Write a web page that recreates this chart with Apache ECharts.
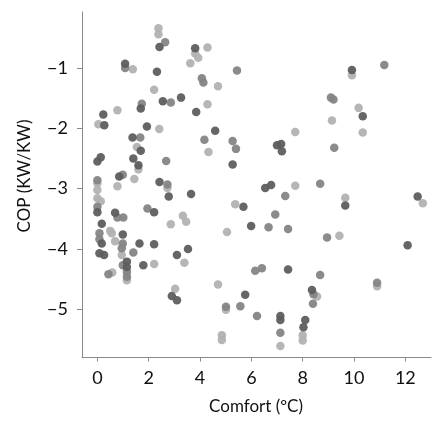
<!DOCTYPE html>
<html>
<head>
<meta charset="utf-8">
<script src="https://cdn.jsdelivr.net/npm/echarts@6/dist/echarts.min.js"></script>
<style>html,body{margin:0;padding:0;background:#fff}#c{width:432px;height:421px}</style>
</head>
<body>
<div id="c"></div>
<script>
var xTicks = [0, 2, 4, 6, 8, 10, 12];
var yTicks = [-1, -2, -3, -4, -5];
var xTitle = 'Comfort (ºC)';
var yTitle = 'COP (KW/KW)';

var darkPts = [[2.42,-0.65],[3.81,-0.67],[1.08,-0.93],[2.32,-1.06],[2.55,-1.55],[3.26,-1.49],[1.69,-1.67],[0.23,-1.77],[0.27,-1.95],[1.93,-1.97],[3.85,-1.73],[9.92,-1.03],[10.34,-1.80],[1.37,-2.15],[1.69,-2.37],[0.13,-2.48],[0.0,-2.55],[1.40,-2.50],[1.60,-2.61],[0.85,-2.80],[2.42,-2.89],[2.78,-3.13],[3.65,-3.09],[0.0,-3.39],[2.21,-3.39],[0.69,-3.40],[0.17,-3.58],[0.99,-3.76],[0.17,-3.91],[1.64,-3.91],[2.21,-3.92],[0.08,-4.07],[0.26,-4.10],[1.15,-4.21],[1.15,-4.30],[1.79,-4.27],[3.10,-4.10],[3.53,-4.00],[2.90,-4.78],[3.10,-4.85],[4.59,-2.04],[5.27,-2.60],[7.00,-2.28],[7.16,-2.26],[7.19,-2.38],[6.54,-2.99],[6.77,-2.94],[5.69,-3.30],[5.99,-3.62],[9.66,-3.28],[12.48,-3.13],[12.09,-3.94],[8.36,-4.68],[7.43,-4.34],[5.76,-4.76],[7.13,-5.11],[7.13,-5.18],[8.10,-5.18],[8.03,-5.30]];

var midPts = [[2.64,-0.57],[1.08,-1.00],[2.86,-1.57],[1.73,-1.59],[5.44,-1.04],[4.07,-1.17],[4.13,-1.24],[11.18,-0.95],[9.10,-1.49],[9.20,-1.52],[2.68,-2.54],[0.99,-2.77],[0,-2.86],[2.73,-2.93],[0,-3.30],[0.78,-3.48],[1.01,-3.48],[0.08,-3.74],[0.08,-3.84],[0.99,-3.91],[1.40,-4.06],[1.15,-4.38],[1.15,-4.46],[0.99,-4.27],[0.43,-4.42],[4.17,-2.19],[5.27,-2.21],[5.40,-2.34],[7.32,-3.12],[6.93,-3.43],[6.67,-3.64],[7.43,-3.67],[9.23,-2.32],[8.68,-2.92],[8.95,-3.81],[8.68,-4.43],[8.40,-4.91],[10.90,-4.56],[8.42,-4.75],[6.15,-4.36],[6.41,-4.32],[5.01,-4.96],[5.57,-4.95],[6.22,-5.11],[7.13,-5.39],[1.67,-2.15],[1.95,-3.33],[0.95,-3.99]];

var lightPts = [[2.38,-0.34],[2.38,-0.44],[3.81,-0.76],[3.93,-0.83],[1.38,-1.02],[3.62,-0.92],[2.21,-1.36],[0.78,-1.70],[0.04,-1.93],[2.41,-2.01],[4.29,-0.66],[4.70,-1.30],[4.29,-1.60],[7.71,-2.06],[9.92,-1.12],[10.18,-1.66],[9.14,-1.87],[10.34,-2.07],[1.54,-2.31],[1.60,-2.68],[1.44,-2.84],[0,-2.91],[0.78,-2.96],[2.73,-2.99],[0,-3.02],[0,-3.16],[0.13,-3.21],[3.33,-3.45],[3.46,-3.55],[2.86,-3.59],[0.50,-3.70],[0.56,-3.74],[0.69,-3.87],[0.95,-4.10],[1.15,-4.52],[2.21,-4.25],[0.58,-4.39],[3.39,-4.23],[3.03,-4.66],[4.33,-2.39],[7.71,-2.95],[5.37,-3.26],[5.05,-3.72],[9.66,-3.15],[12.68,-3.24],[9.43,-3.78],[8.56,-4.79],[10.90,-4.62],[4.70,-4.59],[5.01,-5.01],[7.13,-5.61],[8.00,-5.43],[8.00,-5.52],[4.85,-5.43],[4.85,-5.51]];

var FONT = 'Lato';
var chart = echarts.init(document.getElementById('c'), null, {renderer: 'canvas'});
function mkSeries(data, color) {
  return {
    type: 'scatter', data: data, symbol: 'circle', symbolSize: 8.5,
    itemStyle: {color: color, opacity: 0.95}, silent: true, animation: false
  };
}
chart.setOption({
  animation: false,
  grid: {left: 82, top: 12, width: 349, height: 345.5, containLabel: false},
  xAxis: {
    type: 'value', min: -0.6, max: 13,
    axisLine: {show: true, onZero: false, lineStyle: {color: '#8a8a8a', width: 1}},
    axisTick: {show: true, length: 4, lineStyle: {color: '#8a8a8a'}, customValues: xTicks},
    axisLabel: {customValues: xTicks, margin: 12, color: '#111', fontSize: 18, fontFamily: FONT},
    splitLine: {show: false}
  },
  yAxis: {
    type: 'value', min: -5.8, max: -0.07,
    axisLine: {show: true, onZero: false, lineStyle: {color: '#8a8a8a', width: 1}},
    axisTick: {show: true, length: 5, lineStyle: {color: '#8a8a8a'}, customValues: yTicks},
    axisLabel: {customValues: yTicks, margin: 14, color: '#111', fontSize: 18, fontFamily: FONT,
      formatter: function (v) { return String(v).replace('-', '\u2212'); }},
    splitLine: {show: false}
  },
  graphic: [
    {type: 'text', x: 256, y: 407, style: {text: xTitle, font: '17px ' + FONT, fill: '#111', textAlign: 'center', textVerticalAlign: 'middle'}},
    {type: 'text', x: 25, y: 176, rotation: Math.PI / 2, style: {text: yTitle, font: '17px ' + FONT, fill: '#111', textAlign: 'center', textVerticalAlign: 'middle'}}
  ],
  series: [mkSeries(lightPts, '#b2b2b2'), mkSeries(midPts, '#858585'), mkSeries(darkPts, '#5e5e5e')]
});
</script>
</body>
</html>
